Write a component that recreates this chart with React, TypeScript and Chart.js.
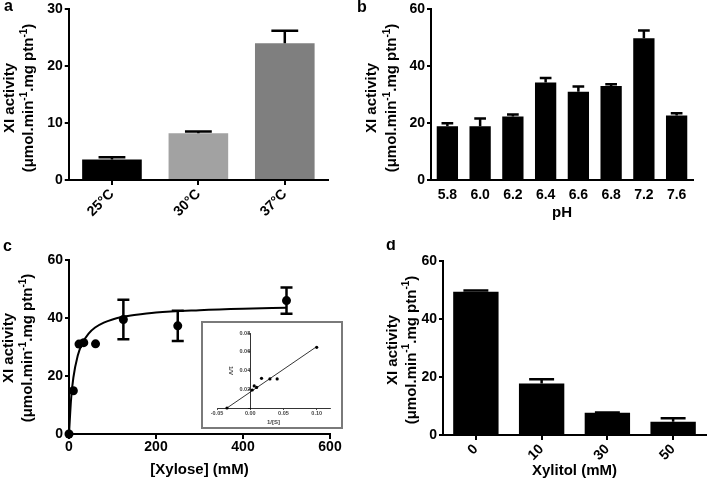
import React, { useEffect, useRef } from 'react';
import { Chart, registerables } from 'chart.js';

Chart.register(...registerables);

// ---------- data ----------
const tempLabels = ['25°C', '30°C', '37°C'];
const tempValues = [3.6, 8.2, 24.0];
const tempErrors = [0.4, 0.3, 2.2];
const tempColors = ['#000000', '#a2a2a2', '#7f7f7f'];

const phLabels = ['5.8', '6.0', '6.2', '6.4', '6.6', '6.8', '7.2', '7.6'];
const phValues = [18.9, 18.9, 22.3, 34.2, 31.0, 33.0, 49.7, 22.6];
const phErrors = [1.0, 2.7, 0.7, 1.6, 1.8, 0.6, 2.8, 0.8];

const xyloseConc = [0, 10, 23, 34, 61, 125, 250, 500];
const xyloseActivity = [0, 14.9, 31.0, 31.5, 31.1, 39.5, 37.3, 46.0];
const xyloseErrors = [0, 0, 0, 0, 0, 6.8, 5.2, 4.5];
const fitConc = [0, 5, 10, 20, 30, 45, 60, 80, 100, 125, 150, 200, 300, 400, 500];
const fitActivity = [0, 12.4, 19.4, 27.0, 31.1, 34.6, 36.7, 38.4, 39.5, 40.4, 41.0, 41.9, 42.7, 43.2, 43.5];

const lbInvS = [-0.035, 0.003, 0.006, 0.0096, 0.017, 0.0296, 0.0405, 0.1];
const lbInvV = [0, 0.0192, 0.0235, 0.022, 0.0317, 0.031, 0.031, 0.0647];
const lbLineInvS = [-0.035, 0.1];
const lbLineInvV = [0, 0.0655];

const xylitolLabels = ['0', '10', '30', '50'];
const xylitolValues = [49.4, 17.8, 7.7, 4.6];
const xylitolErrors = [0.4, 1.4, 0.1, 1.2];

const yTitleMain = 'XI activity';
const yTitleUnits: [string, boolean][] = [
  ['(μmol.min', false],
  ['-1', true],
  ['.mg ptn', false],
  ['-1', true],
  [')', false],
];

// ---------- styling helpers ----------
const FONT = '"Liberation Sans", Arial, Helvetica, sans-serif';
const tickFont = { family: FONT, size: 14, weight: 'bold' as const, lineHeight: 1 };
const titleFont = { family: FONT, size: 15, weight: 'bold' as const };

const errorBarPlugin = {
  id: 'errorBars',
  afterDatasetsDraw(chart: any, _args: any, opts: any) {
    if (!opts || !opts.errors) return;
    const idx = opts.datasetIndex ?? 0;
    const meta = chart.getDatasetMeta(idx);
    const ds = chart.data.datasets[idx];
    const yScale = chart.scales.y;
    const ctx = chart.ctx;
    ctx.save();
    ctx.strokeStyle = '#000';
    ctx.lineWidth = opts.lineWidth || 2;
    meta.data.forEach((el: any, i: number) => {
      const err = opts.errors[i];
      if (!err) return;
      const raw = ds.data[i];
      const v = typeof raw === 'number' ? raw : raw.y;
      const x = el.x;
      const yHi = yScale.getPixelForValue(v + err);
      const yLo = opts.both ? yScale.getPixelForValue(v - err) : el.y;
      const cap = opts.capRatio ? el.width * opts.capRatio : opts.capWidth;
      ctx.beginPath();
      ctx.moveTo(x, yLo);
      ctx.lineTo(x, yHi);
      ctx.moveTo(x - cap / 2, yHi);
      ctx.lineTo(x + cap / 2, yHi);
      if (opts.both) {
        ctx.moveTo(x - cap / 2, yLo);
        ctx.lineTo(x + cap / 2, yLo);
      }
      ctx.stroke();
    });
    ctx.restore();
  },
};

const annotPlugin = {
  id: 'annot',
  afterDraw(chart: any, _args: any, opts: any) {
    if (!opts) return;
    const ctx = chart.ctx;
    ctx.save();
    ctx.fillStyle = '#000';
    if (opts.letter) {
      ctx.font = `bold 16px ${FONT}`;
      ctx.textAlign = 'left';
      ctx.textBaseline = 'alphabetic';
      ctx.fillText(opts.letter.text, opts.letter.x, opts.letter.y);
    }
    if (opts.yTitle) {
      const t = opts.yTitle;
      const lines: { cx: number; segs: [string, boolean][] }[] = [
        { cx: t.x1, segs: [[yTitleMain, false]] },
        { cx: t.x2, segs: yTitleUnits },
      ];
      ctx.textAlign = 'left';
      ctx.textBaseline = 'middle';
      for (const line of lines) {
        let total = 0;
        const widths: number[] = [];
        for (const [txt, sup] of line.segs) {
          ctx.font = `bold ${sup ? 10 : 15}px ${FONT}`;
          const w = ctx.measureText(txt).width;
          widths.push(w);
          total += w;
        }
        ctx.save();
        ctx.translate(line.cx, t.cy);
        ctx.rotate(-Math.PI / 2);
        let x = -total / 2;
        line.segs.forEach(([txt, sup], i) => {
          ctx.font = `bold ${sup ? 10 : 15}px ${FONT}`;
          ctx.fillText(txt, x, sup ? -5 : 0);
          x += widths[i];
        });
        ctx.restore();
      }
    }
    ctx.restore();
  },
};

function yAxis(max: number, step: number, width: number) {
  return {
    min: 0,
    max,
    ticks: { stepSize: step, color: '#000', font: tickFont, padding: 2 },
    grid: { drawOnChartArea: false, drawTicks: true, tickLength: 4, lineWidth: 2, color: '#000' },
    border: { display: true, width: 2, color: '#000' },
    afterFit: (s: any) => {
      s.width = width;
    },
  };
}

function baseOptions(padding: any) {
  return {
    animation: false,
    responsive: false,
    maintainAspectRatio: false,
    layout: { padding },
  };
}

// ---------- configs ----------
function configA(): any {
  return {
    type: 'bar',
    data: {
      labels: tempLabels,
      datasets: [
        {
          data: tempValues,
          backgroundColor: tempColors,
          borderWidth: 0,
          categoryPercentage: 1,
          barPercentage: 0.69,
        },
      ],
    },
    options: {
      ...baseOptions({ left: 0, right: 26, top: 6, bottom: 0 }),
      plugins: {
        legend: { display: false },
        tooltip: { enabled: false },
        errorBars: { errors: tempErrors, capRatio: 0.45, lineWidth: 2.5 },
        annot: { letter: { text: 'a', x: 4, y: 11 }, yTitle: { x1: 10, x2: 29, cy: 98 } },
      },
      scales: {
        x: {
          offset: true,
          grid: { offset: false, drawOnChartArea: false, tickLength: 5, lineWidth: 2, color: '#000' },
          border: { display: true, width: 2, color: '#000' },
          ticks: { color: '#000', font: tickFont, minRotation: 45, maxRotation: 45, padding: 2 },
          afterFit: (s: any) => {
            s.height = 60;
          },
        },
        y: yAxis(30, 10, 68.75),
      },
    },
    plugins: [errorBarPlugin, annotPlugin],
  };
}

function configB(): any {
  return {
    type: 'bar',
    data: {
      labels: phLabels,
      datasets: [
        {
          data: phValues,
          backgroundColor: '#000',
          borderWidth: 0,
          categoryPercentage: 1,
          barPercentage: 0.65,
        },
      ],
    },
    options: {
      ...baseOptions({ left: 0, right: 15, top: 6, bottom: 0 }),
      plugins: {
        legend: { display: false },
        tooltip: { enabled: false },
        errorBars: { errors: phErrors, capRatio: 0.55, lineWidth: 2.5 },
        annot: { letter: { text: 'b', x: 3, y: 12 }, yTitle: { x1: 18, x2: 38, cy: 98 } },
      },
      scales: {
        x: {
          offset: true,
          grid: { display: false, drawTicks: false },
          border: { display: true, width: 2, color: '#000' },
          ticks: { color: '#000', font: tickFont, maxRotation: 0, minRotation: 0, padding: 8 },
          title: { display: true, text: 'pH', color: '#000', font: titleFont, padding: { top: 0, bottom: 18 } },
          afterFit: (s: any) => {
            s.height = 60;
          },
        },
        y: yAxis(60, 20, 77),
      },
    },
    plugins: [errorBarPlugin, annotPlugin],
  };
}

function configC(): any {
  return {
    type: 'scatter',
    data: {
      datasets: [
        {
          data: fitConc.map((x, i) => ({ x, y: fitActivity[i] })),
          showLine: true,
          borderColor: '#000',
          borderWidth: 2,
          pointRadius: 0,
          cubicInterpolationMode: 'monotone',
          clip: false,
        },
        {
          data: xyloseConc.map((x, i) => ({ x, y: xyloseActivity[i] })),
          pointRadius: 4.5,
          backgroundColor: '#000',
          borderColor: '#000',
          borderWidth: 0,
          clip: false,
        },
      ],
    },
    options: {
      ...baseOptions({ left: 0, right: 24, top: 20, bottom: 0 }),
      plugins: {
        legend: { display: false },
        tooltip: { enabled: false },
        errorBars: { errors: xyloseErrors, datasetIndex: 1, both: true, capWidth: 12, lineWidth: 2.5 },
        annot: { letter: { text: 'c', x: 3, y: 11 }, yTitle: { x1: 9, x2: 28, cy: 108 } },
      },
      scales: {
        x: {
          type: 'linear',
          min: 0,
          max: 600,
          ticks: { stepSize: 200, color: '#000', font: tickFont, padding: 1, maxRotation: 0 },
          grid: { drawOnChartArea: false, tickLength: 5, lineWidth: 2, color: '#000' },
          border: { display: true, width: 2, color: '#000' },
          title: { display: true, text: '[Xylose] (mM)', color: '#000', font: titleFont, padding: { top: 0, bottom: 7 } },
          afterFit: (s: any) => {
            s.height = 52;
          },
        },
        y: yAxis(60, 20, 69),
      },
    },
    plugins: [errorBarPlugin, annotPlugin],
  };
}

function configInset(): any {
  const small = { family: FONT, size: 5.5, weight: 'bold' as const, lineHeight: 1 };
  const fmt = (v: number) => (Math.abs(v) < 1e-9 ? '0.00' : v.toFixed(2));
  return {
    type: 'scatter',
    data: {
      datasets: [
        {
          data: lbLineInvS.map((x, i) => ({ x, y: lbLineInvV[i] })),
          showLine: true,
          borderColor: '#000',
          borderWidth: 0.8,
          pointRadius: 0,
          clip: false,
        },
        {
          data: lbInvS.map((x, i) => ({ x, y: lbInvV[i] })),
          pointRadius: 1.6,
          backgroundColor: '#000',
          borderWidth: 0,
          clip: false,
        },
      ],
    },
    options: {
      ...baseOptions({ left: 14, right: 11, top: 10, bottom: 0 }),
      plugins: { legend: { display: false }, tooltip: { enabled: false } },
      scales: {
        x: {
          type: 'linear',
          min: -0.05,
          max: 0.12,
          ticks: { stepSize: 0.05, includeBounds: false, color: '#444', font: small, padding: 1, maxRotation: 0, callback: (v: any) => fmt(Number(v)) },
          grid: { drawOnChartArea: false, tickLength: 2, lineWidth: 0.7, color: '#000' },
          border: { display: true, width: 0.8, color: '#000' },
          title: { display: true, text: '1/[S]', color: '#444', font: { family: FONT, size: 6, weight: 'bold' }, padding: { top: 0, bottom: 1 } },
          afterFit: (s: any) => {
            s.height = 19;
          },
        },
        y: {
          type: 'linear',
          position: { x: 0 },
          min: 0,
          max: 0.08,
          ticks: { stepSize: 0.02, color: '#444', font: small, padding: 1, callback: (v: any) => (Math.abs(Number(v)) < 1e-9 ? '' : fmt(Number(v))) },
          grid: { drawOnChartArea: false, tickLength: 2, lineWidth: 0.7, color: '#000' },
          border: { display: true, width: 0.8, color: '#000' },
          title: { display: true, text: '1/V', color: '#444', font: { family: FONT, size: 6, weight: 'bold' }, padding: 1 },
        },
      },
    },
  };
}

function configD(): any {
  return {
    type: 'bar',
    data: {
      labels: xylitolLabels,
      datasets: [
        {
          data: xylitolValues,
          backgroundColor: '#000',
          borderWidth: 0,
          categoryPercentage: 1,
          barPercentage: 0.69,
        },
      ],
    },
    options: {
      ...baseOptions({ left: 0, right: 2, top: 21, bottom: 0 }),
      plugins: {
        legend: { display: false },
        tooltip: { enabled: false },
        errorBars: { errors: xylitolErrors, capRatio: 0.55, lineWidth: 2.5 },
        annot: { letter: { text: 'd', x: 32, y: 10 }, yTitle: { x1: 38.5, x2: 57.5, cy: 110 } },
      },
      scales: {
        x: {
          offset: true,
          grid: { offset: false, drawOnChartArea: false, tickLength: 5, lineWidth: 2, color: '#000' },
          border: { display: true, width: 2, color: '#000' },
          ticks: { color: '#000', font: tickFont, minRotation: 45, maxRotation: 45, padding: 2 },
          title: { display: true, text: 'Xylitol (mM)', color: '#000', font: titleFont, padding: { top: 0, bottom: 6 } },
          afterFit: (s: any) => {
            s.height = 51;
          },
        },
        y: yAxis(60, 20, 89),
      },
    },
    plugins: [errorBarPlugin, annotPlugin],
  };
}

// ---------- components ----------
function ChartCanvas(props: { make: () => any; left: number; top: number; width: number; height: number }) {
  const ref = useRef<HTMLCanvasElement>(null);
  useEffect(() => {
    const chart = new Chart(ref.current as HTMLCanvasElement, props.make());
    return () => chart.destroy();
  }, []);
  return (
    <canvas
      ref={ref}
      width={props.width}
      height={props.height}
      style={{ position: 'absolute', left: props.left, top: props.top, width: props.width, height: props.height }}
    />
  );
}

export default function App() {
  return (
    <div style={{ position: 'absolute', left: 0, top: 0, width: 708, height: 486, background: '#fff', overflow: 'hidden' }}>
      <ChartCanvas make={configA} left={0} top={0} width={354} height={240} />
      <ChartCanvas make={configB} left={354} top={0} width={354} height={240} />
      <ChartCanvas make={configC} left={0} top={240} width={354} height={246} />
      <ChartCanvas make={configD} left={354} top={240} width={354} height={246} />
      <div
        style={{
          position: 'absolute',
          left: 201,
          top: 321,
          width: 142,
          height: 108,
          border: '2px solid #7a7a7a',
          boxSizing: 'border-box',
          background: '#fff',
        }}
      >
        <ChartCanvas make={configInset} left={0} top={0} width={138} height={104} />
      </div>
    </div>
  );
}
